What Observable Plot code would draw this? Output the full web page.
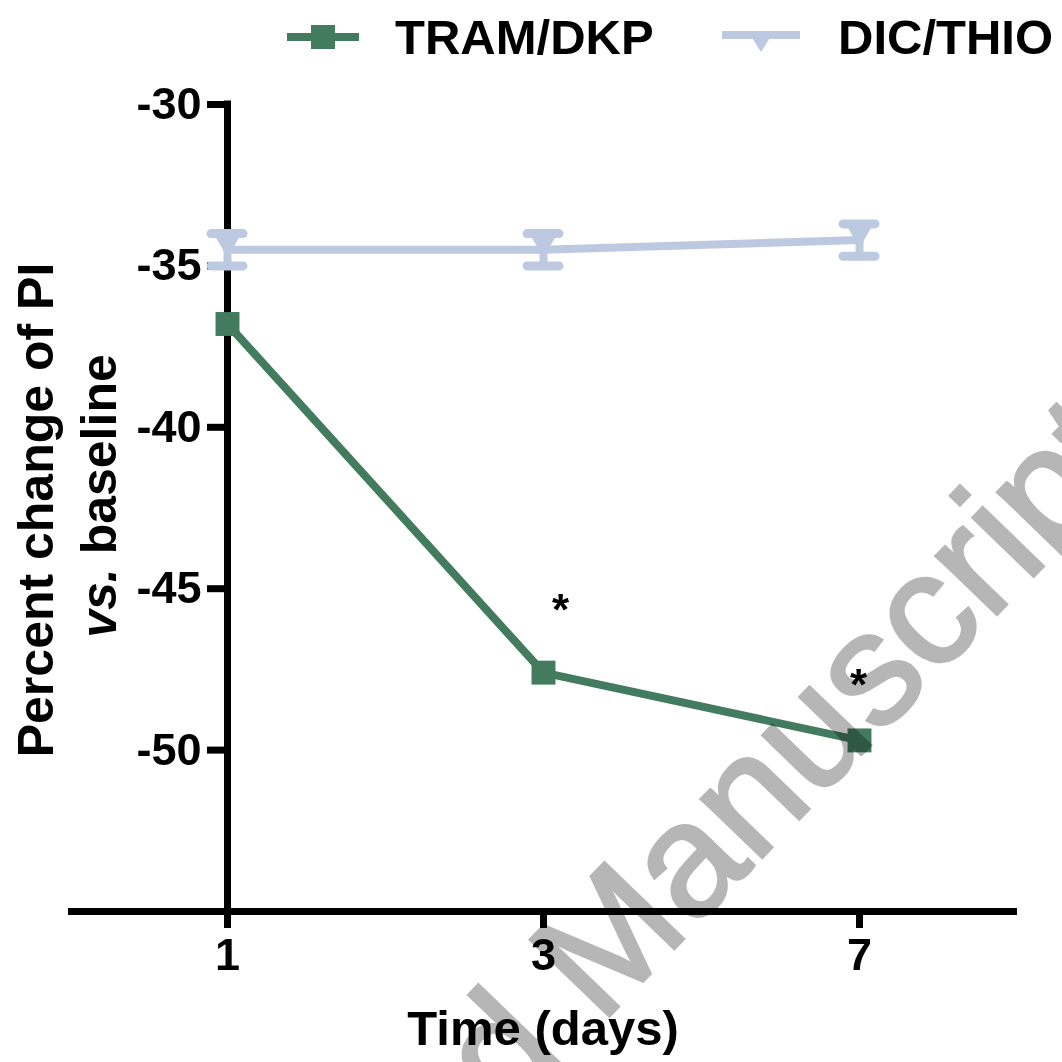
<!DOCTYPE html>
<html>
<head>
<meta charset="utf-8">
<script src="https://cdn.jsdelivr.net/npm/d3@7"></script>
<script src="https://cdn.jsdelivr.net/npm/@observablehq/plot@0.6"></script>
<style>
  html, body { margin: 0; padding: 0; background: #fff; }
  #wrap { position: relative; width: 1062px; height: 1062px; overflow: hidden; background: #fff; isolation: isolate;
          font-family: Arial, "Liberation Sans", sans-serif; }
  #legend { display: block; }
  #chart svg { display: block; }
  #wm { position: absolute; left: 0; top: 0; pointer-events: none; mix-blend-mode: multiply; }
</style>
</head>
<body>
<div id="wrap">
  <svg id="legend" width="1062" height="70"></svg>
  <div id="chart"></div>
  <svg id="wm" width="1062" height="1062"></svg>
</div>
<script>
// ---- data ----
const days = [1, 3, 7];
const tramValues = [-36.8, -47.6, -49.7];
const dicValues = [-34.5, -34.5, -34.2];
const dicErrors = [0.5, 0.5, 0.5];
const seriesNames = ["TRAM/DKP", "DIC/THIO"];
const seriesColors = ["#427b5d", "#bdc9e1"];
const yTicks = [-30, -35, -40, -45, -50];
const yDomain = [-55, -30];
const starDays = [3, 7];
const starValues = [-45.7, -48.0];
const xTitle = "Time (days)";
const yTitle1 = "Percent change of PI";
const yTitle2 = "vs. baseline";
const watermark = "Accepted Manuscript";

const font = "Arial, 'Liberation Sans', sans-serif";
const green = seriesColors[0], blue = seriesColors[1];

const tram = days.map((d, i) => ({day: d, value: tramValues[i]}));
const dic = days.map((d, i) => ({day: d, value: dicValues[i], lo: dicValues[i] - dicErrors[i], hi: dicValues[i] + dicErrors[i]}));

// ---- legend ----
const lg = d3.select("#legend");
lg.append("line").attr("x1", 287).attr("x2", 359).attr("y1", 37).attr("y2", 37)
  .attr("stroke", green).attr("stroke-width", 8);
lg.append("rect").attr("x", 311).attr("y", 25).attr("width", 24).attr("height", 24).attr("fill", green);
lg.append("text").attr("x", 395).attr("y", 54).attr("font-family", font).attr("font-weight", "bold")
  .attr("font-size", 49).attr("fill", "#000").text(seriesNames[0]);
lg.append("line").attr("x1", 722).attr("x2", 800).attr("y1", 35).attr("y2", 35)
  .attr("stroke", blue).attr("stroke-width", 8);
lg.append("path").attr("d", "M749,33 L773,33 L761,52 Z").attr("fill", blue);
lg.append("text").attr("x", 838).attr("y", 54).attr("font-family", font).attr("font-weight", "bold")
  .attr("font-size", 49).attr("fill", "#000").text(seriesNames[1]);

// ---- chart ----
const plot = Plot.plot({
  width: 1062,
  height: 992,
  marginTop: 34,
  marginBottom: 151,
  marginLeft: 68,
  marginRight: 45,
  style: {fontFamily: font, fontSize: "45px", fontWeight: "bold", color: "#000", background: "transparent"},
  x: {type: "band", domain: days, paddingInner: 1, paddingOuter: 0.5},
  y: {domain: yDomain, axis: null},
  marks: [
    Plot.ruleY([yDomain[0]], {stroke: "#000", strokeWidth: 7}),
    Plot.axisX({ticks: days, tickSize: 17, tickPadding: 10, strokeWidth: 7, stroke: "#000",
                fontSize: 45, fontWeight: "bold", label: null, tickFormat: d => String(d)}),
    Plot.ruleX([days[0]], {y1: () => yDomain[0], y2: () => yDomain[1], stroke: "#000", strokeWidth: 7, strokeLinecap: "square"}),
    Plot.tickY(yTicks, {x: () => days[0], y: d => d, insetLeft: -20, stroke: "#000", strokeWidth: 7}),
    Plot.text(yTicks, {x: () => days[0], y: d => d, text: d => String(d), dx: -26, textAnchor: "end",
                       fontSize: 45, fontWeight: "bold", fill: "#000"}),
    Plot.text([yTitle1], {frameAnchor: "left", text: d => d, rotate: -90, textAnchor: "middle", dx: -32, dy: 2, fontSize: 50, fontWeight: "bold", fill: "#000"}),
    Plot.text([yTitle2], {frameAnchor: "left", text: d => d, rotate: -90, textAnchor: "middle", dx: 31, dy: -12, fontSize: 50, fontWeight: "bold", fill: "#000"}),
    Plot.text([xTitle], {frameAnchor: "bottom", text: d => d, lineAnchor: "top", dy: 99, fontSize: 49, fontWeight: "bold", fill: "#000"}),
    Plot.line(dic, {x: "day", y: "value", stroke: blue, strokeWidth: 8}),
    Plot.ruleX(dic, {x: "day", y1: "lo", y2: "hi", stroke: blue, strokeWidth: 8}),
    Plot.tickY(dic, {x: "day", y: "lo", insetLeft: -16, insetRight: -16, stroke: blue, strokeWidth: 9, strokeLinecap: "round"}),
    Plot.tickY(dic, {x: "day", y: "hi", insetLeft: -16, insetRight: -16, stroke: blue, strokeWidth: 9, strokeLinecap: "round"}),
    Plot.dot(dic, {x: "day", y: "value", symbol: "triangle", rotate: 180, r: 9, fill: blue, dy: -6}),
    Plot.line(tram, {x: "day", y: "value", stroke: green, strokeWidth: 8}),
    Plot.dot(tram, {x: "day", y: "value", symbol: "square", r: 13.5, fill: green}),
    Plot.text(starDays.slice(0, 1), {x: d => d, y: () => starValues[0], text: () => "*", dx: 17, fontSize: 44, fontWeight: "bold", fill: "#000"}),
    Plot.text(starDays.slice(1), {x: d => d, y: () => starValues[1], text: () => "*", dx: -1, fontSize: 44, fontWeight: "bold", fill: "#000"})
  ]
});

d3.select(plot).selectAll("text")
  .filter(function() { return this.textContent === yTitle2; })
  .each(function() {
    const t = d3.select(this);
    t.text(null);
    t.append("tspan").attr("font-style", "italic").text("vs.");
    t.append("tspan").text(" baseline");
  });

document.getElementById("chart").appendChild(plot);

// ---- watermark ----
d3.select("#wm").append("g")
  .attr("transform", "translate(620 930) rotate(-46)")
  .append("text")
  .attr("x", -794).attr("y", 52)
  .attr("font-family", font).attr("font-size", 160)
  .attr("fill", "#b6b6b6").attr("stroke", "#b6b6b6").attr("stroke-width", 3)
  .text(watermark);
</script>
</body>
</html>
